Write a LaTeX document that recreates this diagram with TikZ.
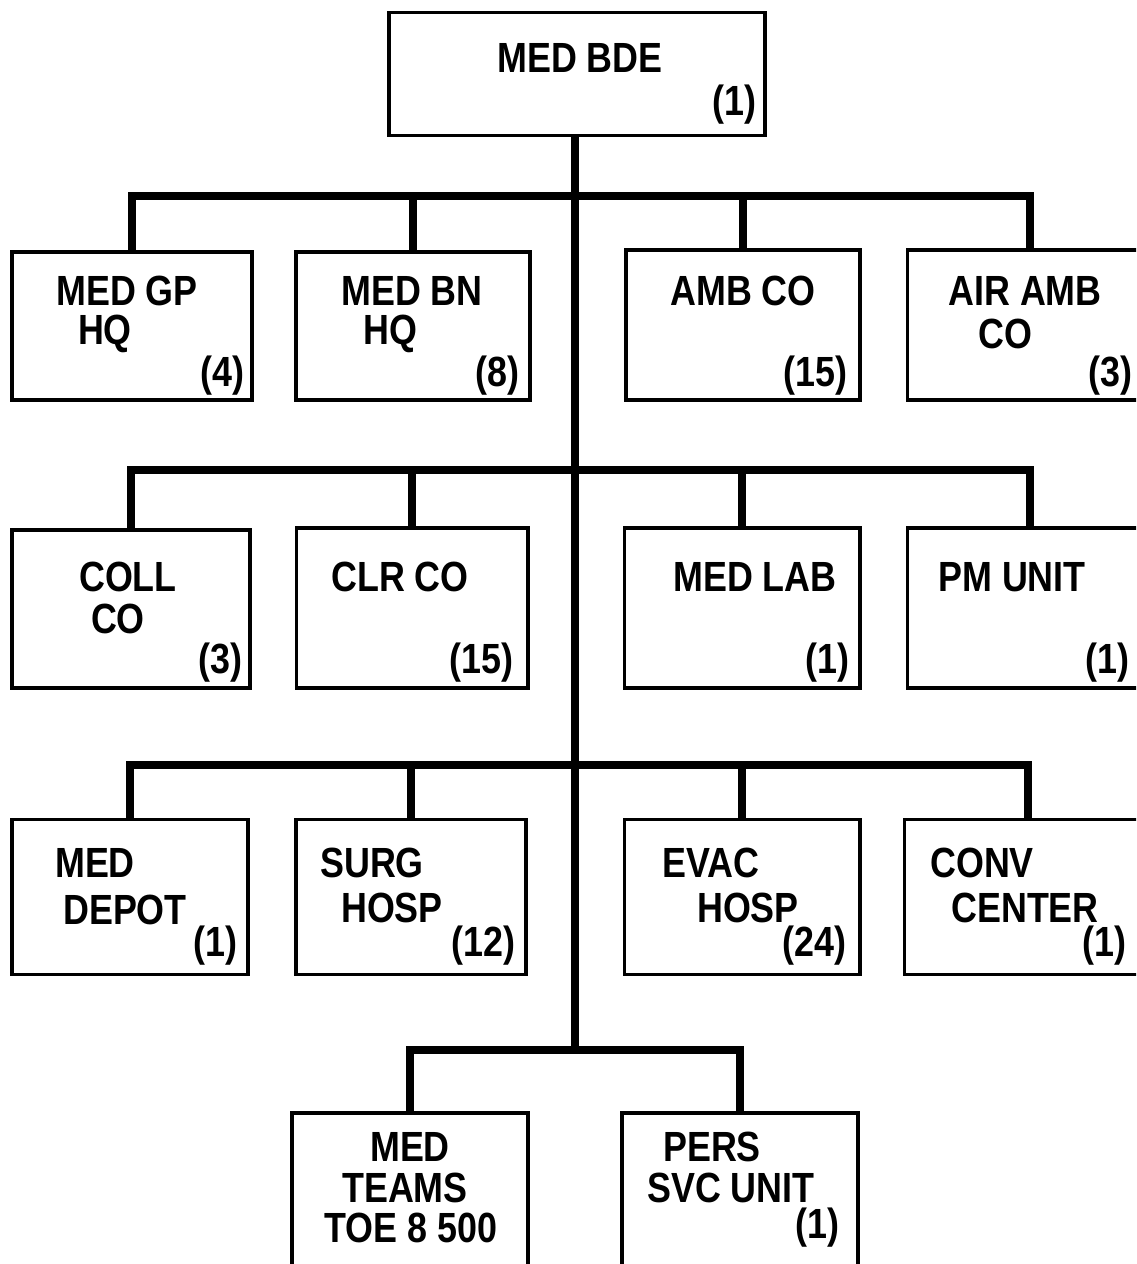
\documentclass[tikz,border=0pt]{standalone}
\usepackage{fontspec}
\setmainfont{Liberation Sans}[FakeStretch=0.85]
\begin{document}
\begin{tikzpicture}[x=0.01cm, y=-0.01cm,
  unit/.style={draw, rectangle, line width=1.1pt, inner sep=0pt},
  txt/.style={inner sep=0pt, font=\fontsize{12}{14}\selectfont\bfseries},
  num/.style={txt, anchor=east},
  bus/.style={line width=2.4pt}]
\useasboundingbox (0,0) rectangle (1136,1264);
\clip (0,0) rectangle (1136,1264);

% top
\node[unit, minimum width=3.75cm, minimum height=1.23cm] (bde) at (577,74) {};
\node[txt] (bdeA) at (580,58) {MED BDE};
\node[num] (bdeN) at (757,105) {(1)};

% first row
\node[unit, minimum width=2.39cm, minimum height=1.48cm] (gp) at (132,326) {};
\node[unit, minimum width=2.34cm, minimum height=1.48cm] (bn) at (413,326) {};
\node[unit, minimum width=2.34cm, minimum height=1.50cm] (amb) at (743,325) {};
\node[unit, minimum width=2.45cm, minimum height=1.50cm] (air) at (1030,325) {};

\node[txt] (gpA) at (127,291) {MED GP};
\node[txt] (gpB) at (105,334) {HQ};
\node[num] (gpN) at (245,376) {(4)};
\node[txt] (bnA) at (412,291) {MED BN};
\node[txt] (bnB) at (390,334) {HQ};
\node[num] (bnN) at (520,376) {(8)};
\node[txt] (ambA) at (743,291) {AMB CO};
\node[num] (ambN) at (848,376) {(15)};
\node[txt] (airA) at (1025,291) {AIR AMB};
\node[txt] (airB) at (1005,334) {CO};
\node[num] (airN) at (1133,376) {(3)};

% second row
\node[unit, minimum width=2.38cm, minimum height=1.58cm] (coll) at (131,609) {};
\node[unit, minimum width=2.31cm, minimum height=1.60cm] (clr) at (412,608) {};
\node[unit, minimum width=2.35cm, minimum height=1.60cm] (lab) at (742,608) {};
\node[unit, minimum width=2.45cm, minimum height=1.60cm] (pm) at (1030,608) {};

\node[txt] (collA) at (128,577) {COLL};
\node[txt] (collB) at (118,619) {CO};
\node[num] (collN) at (243,663) {(3)};
\node[txt] (clrA) at (400,577) {CLR CO};
\node[num] (clrN) at (514,663) {(15)};
\node[txt] (labA) at (755,577) {MED LAB};
\node[num] (labN) at (850,663) {(1)};
\node[txt] (pmA) at (1012,577) {PM UNIT};
\node[num] (pmN) at (1130,663) {(1)};

% third row
\node[unit, minimum width=2.36cm, minimum height=1.55cm] (depot) at (130,897) {};
\node[unit, minimum width=2.30cm, minimum height=1.55cm] (surg) at (411,897) {};
\node[unit, minimum width=2.35cm, minimum height=1.55cm] (evac) at (742,897) {};
\node[unit, minimum width=2.47cm, minimum height=1.55cm] (conv) at (1028,897) {};

\node[txt] (depotA) at (95,863) {MED};
\node[txt] (depotB) at (125,910) {DEPOT};
\node[num] (depotN) at (238,946) {(1)};
\node[txt] (surgA) at (372,863) {SURG};
\node[txt] (surgB) at (392,908) {HOSP};
\node[num] (surgN) at (516,946) {(12)};
\node[txt] (evacA) at (711,863) {EVAC};
\node[txt] (evacB) at (748,908) {HOSP};
\node[num] (evacN) at (847,946) {(24)};
\node[txt] (convA) at (982,863) {CONV};
\node[txt] (convB) at (1025,908) {CENTER};
\node[num] (convN) at (1127,946) {(1)};

% bottom row
\node[unit, minimum width=2.36cm, minimum height=1.90cm] (teams) at (410,1208) {};
\node[unit, minimum width=2.36cm, minimum height=1.90cm] (pers) at (740,1208) {};

\node[txt] (teamsA) at (410,1147) {MED};
\node[txt] (teamsB) at (405,1188) {TEAMS};
\node[txt] (teamsC) at (411,1228) {TOE 8 500};
\node[txt] (persA) at (712,1147) {PERS};
\node[txt] (persB) at (731,1188) {SVC UNIT};
\node[num] (persN) at (840,1228) {(1)};

% junctions on the trunk
\coordinate (j1) at (575,196);
\coordinate (j2) at (575,470);
\coordinate (j3) at (575,765);
\coordinate (j4) at (575,1050);

\draw[bus] (bde.south -| j1) -- (j4);
\draw[bus] (gp.north) |- (j1) -| (air.north);
\draw[bus] (bn.north) -- (bn.north |- j1);
\draw[bus] (amb.north) -- (amb.north |- j1);
\draw[bus] (coll.north) |- (j2) -| (pm.north);
\draw[bus] (clr.north) -- (clr.north |- j2);
\draw[bus] (lab.north) -- (lab.north |- j2);
\draw[bus] (depot.north) |- (j3) -| (conv.north);
\draw[bus] (surg.north) -- (surg.north |- j3);
\draw[bus] (evac.north) -- (evac.north |- j3);
\draw[bus] (teams.north) |- (j4) -| (pers.north);
\end{tikzpicture}
\end{document}
